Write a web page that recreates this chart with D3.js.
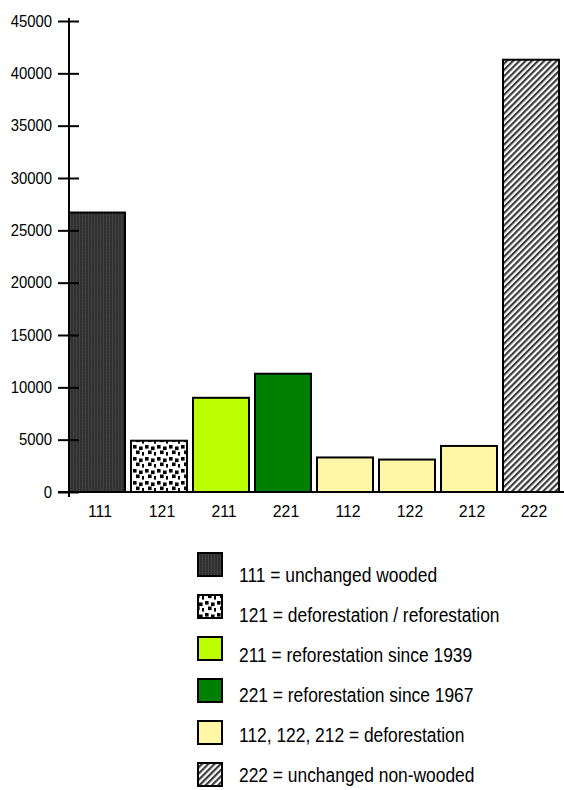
<!DOCTYPE html>
<html>
<head>
<meta charset="utf-8">
<script src="https://cdn.jsdelivr.net/npm/d3@7"></script>
<style>
  body { margin: 0; background: #fff; }
  svg { display: block; font-family: "Liberation Sans", Arial, sans-serif; }
</style>
</head>
<body>
<div id="chart"></div>
<script>
// land-cover change classes
let categories = ['111', '121', '211', '221', '112', '122', '212', '222'];
let values = [26700, 4900, 9000, 11300, 3300, 3100, 4400, 41300];
let fills = ['wooded', 'mixed', 'refor39', 'refor67', 'defor', 'defor', 'defor', 'nonwood'];
let yTicks = [0, 5000, 10000, 15000, 20000, 25000, 30000, 35000, 40000, 45000];

let legendKeys = ['wooded', 'mixed', 'refor39', 'refor67', 'defor', 'nonwood'];
let legendLabels = [
  '111 = unchanged wooded',
  '121 = deforestation / reforestation',
  '211 = reforestation since 1939',
  '221 = reforestation since 1967',
  '112, 122, 212 = deforestation',
  '222 = unchanged non-wooded'
];

let width = 564,
    height = 790;

let fillFor = {
  wooded: 'url(#pat-wooded)',
  mixed: 'url(#pat-mixed)',
  refor39: '#bcff00',
  refor67: '#008000',
  defor: '#fff7a6',
  nonwood: 'url(#pat-nonwood)'
};

let $svg = d3.select('#chart').append('svg')
  .attr('width', width)
  .attr('height', height);

let defs = $svg.append('defs');

// dark, finely striped fill
let pw = defs.append('pattern')
  .attr('id', 'pat-wooded')
  .attr('patternUnits', 'userSpaceOnUse')
  .attr('width', 3).attr('height', 3);
pw.append('rect').attr('width', 3).attr('height', 3).attr('fill', '#2e2e2e');
pw.append('rect').attr('x', 1).attr('width', 1).attr('height', 3).attr('fill', '#474747');
pw.append('rect').attr('y', 2).attr('width', 3).attr('height', 0.6).attr('fill', '#3a3a3a');

// white with black squares
let pm = defs.append('pattern')
  .attr('id', 'pat-mixed')
  .attr('patternUnits', 'userSpaceOnUse')
  .attr('width', 12).attr('height', 12);
pm.append('rect').attr('width', 12).attr('height', 12).attr('fill', '#fff');
[[1, 1], [7, 2.5], [4, 6.5], [10, 8]].forEach(d => {
  pm.append('rect').attr('x', d[0]).attr('y', d[1])
    .attr('width', 3.6).attr('height', 3.6).attr('fill', '#000');
});

// diagonal hatch
let pn = defs.append('pattern')
  .attr('id', 'pat-nonwood')
  .attr('patternUnits', 'userSpaceOnUse')
  .attr('width', 4.4).attr('height', 4.4)
  .attr('patternTransform', 'rotate(45)');
pn.append('rect').attr('width', 4.4).attr('height', 4.4).attr('fill', '#fff');
pn.append('rect').attr('width', 2.2).attr('height', 4.4).attr('fill', '#3c3c3c');

let x = d3.scaleBand()
  .domain(categories)
  .range([69, 559])
  .paddingInner(0.097)
  .paddingOuter(0);

let y = d3.scaleLinear()
  .domain([0, 45000])
  .range([492, 21]);

// bars
$svg.append('g').selectAll('rect')
  .data(values)
  .enter()
  .append('rect')
  .attr('x', (d, i) => x(categories[i]))
  .attr('y', d => y(d))
  .attr('width', x.bandwidth())
  .attr('height', d => y(0) - y(d))
  .attr('fill', (d, i) => fillFor[fills[i]])
  .attr('stroke', '#000')
  .attr('stroke-width', 2);

// y axis
let yAxis = d3.axisLeft(y)
  .tickValues(yTicks)
  .tickSize(0)
  .tickFormat(d => d);

let $yAxis = $svg.append('g')
  .attr('transform', 'translate(69,0)')
  .call(yAxis);
$yAxis.select('.domain').remove();
$yAxis.selectAll('.tick line').remove();
$yAxis.selectAll('.tick')
  .append('line')
  .attr('x1', -11).attr('x2', 10)
  .attr('stroke', '#000').attr('stroke-width', 2);
$yAxis.selectAll('.tick text')
  .attr('x', 0).attr('dy', 0)
  .attr('fill', '#000')
  .attr('font-size', 16)
  .attr('text-anchor', 'end')
  .attr('transform', 'translate(-17,5) scale(0.93,1)');
$yAxis.append('line')
  .attr('y1', y(45000) - 3).attr('y2', y(0) + 5)
  .attr('stroke', '#000').attr('stroke-width', 2);

// x axis
let xAxis = d3.axisBottom(x).tickSize(0);
let $xAxis = $svg.append('g')
  .attr('transform', `translate(0,${y(0)})`)
  .call(xAxis);
$xAxis.select('.domain').remove();
$xAxis.selectAll('.tick text')
  .attr('y', 0).attr('dy', 0)
  .attr('fill', '#000')
  .attr('font-size', 17)
  .attr('transform', 'translate(3,25) scale(0.93,1)');
$xAxis.append('line')
  .attr('x1', 58).attr('x2', 564)
  .attr('stroke', '#000').attr('stroke-width', 2);

// legend
let swatchY = d3.scaleLinear().domain([0, 5]).range([553, 763]);
let labelY = d3.scaleLinear().domain([0, 5]).range([582, 782]);

let $legend = $svg.append('g');
$legend.selectAll('rect')
  .data(legendKeys)
  .enter()
  .append('rect')
  .attr('x', 198)
  .attr('y', (d, i) => swatchY(i))
  .attr('width', 24)
  .attr('height', 23)
  .attr('fill', d => fillFor[d])
  .attr('stroke', '#000')
  .attr('stroke-width', 2);

$legend.selectAll('text')
  .data(legendLabels)
  .enter()
  .append('text')
  .attr('transform', (d, i) => `translate(239,${labelY(i)}) scale(0.87,1)`)
  .attr('font-size', 20)
  .attr('fill', '#000')
  .text(d => d);
</script>
</body>
</html>
